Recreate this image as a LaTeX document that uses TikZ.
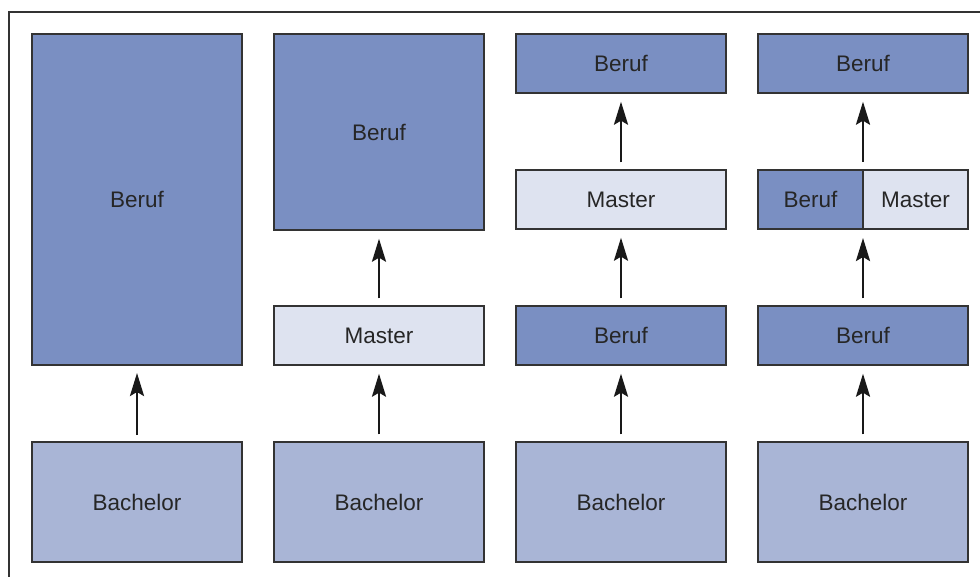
\documentclass[tikz,border=0pt]{standalone}
\usepackage{fontspec}
\setmainfont{Liberation Sans}
\usetikzlibrary{arrows.meta}
\definecolor{beruf}{HTML}{7A8FC2}
\definecolor{master}{HTML}{DEE3F0}
\definecolor{bachelor}{HTML}{A9B5D6}
\definecolor{edge}{HTML}{333333}
\tikzset{
  box/.style={draw=edge, line width=1.4pt, inner sep=0pt, font=\fontsize{22.5}{26}\selectfont, text=black!85},
  berufbox/.style={box, fill=beruf},
  masterbox/.style={box, fill=master},
  bachbox/.style={box, fill=bachelor},
  flow/.style={line width=2.6pt, draw=black!90, -{Stealth[length=23pt,width=14pt,inset=4pt]}, shorten >=1pt}
}
\begin{document}
\begin{tikzpicture}[x=1pt,y=-1pt]
\useasboundingbox (0,0) rectangle (980,577);
\draw[edge, line width=1.3pt] (9,577) -- (9,12) -- (980,12);
% column 1
\node[berufbox, minimum width=210pt, minimum height=331pt] (b1) at (137,199.5) {Beruf};
\node[bachbox, minimum width=210pt, minimum height=120pt] (a1) at (137,502) {Bachelor};
\coordinate (a1t) at (137,435);
\coordinate (b1b) at (137,372);
\draw[flow] (a1t) -- (b1b);
% column 2
\node[berufbox, minimum width=210pt, minimum height=196pt] (b2) at (379,132) {Beruf};
\node[masterbox, minimum width=210pt, minimum height=59pt] (m2) at (379,335.5) {Master};
\node[bachbox, minimum width=210pt, minimum height=120pt] (a2) at (379,502) {Bachelor};
\draw[flow] ([yshift=7pt]a2.north) -- ([yshift=-7pt]m2.south);
\draw[flow] ([yshift=7pt]m2.north) -- ([yshift=-7pt]b2.south);
% column 3
\node[berufbox, minimum width=210pt, minimum height=59pt] (t3) at (621,63.5) {Beruf};
\node[masterbox, minimum width=210pt, minimum height=59pt] (m3) at (621,199.5) {Master};
\node[berufbox, minimum width=210pt, minimum height=59pt] (b3) at (621,335.5) {Beruf};
\node[bachbox, minimum width=210pt, minimum height=120pt] (a3) at (621,502) {Bachelor};
\draw[flow] ([yshift=7pt]a3.north) -- ([yshift=-7pt]b3.south);
\draw[flow] ([yshift=7pt]b3.north) -- ([yshift=-7pt]m3.south);
\draw[flow] ([yshift=7pt]m3.north) -- ([yshift=-7pt]t3.south);
% column 4
\node[berufbox, minimum width=210pt, minimum height=59pt] (t4) at (863,63.5) {Beruf};
\node[berufbox, minimum width=105pt, minimum height=59pt] (ml4) at (810.5,199.5) {Beruf};
\node[masterbox, minimum width=105pt, minimum height=59pt] (mr4) at (915.5,199.5) {Master};
\node[berufbox, minimum width=210pt, minimum height=59pt] (b4) at (863,335.5) {Beruf};
\node[bachbox, minimum width=210pt, minimum height=120pt] (a4) at (863,502) {Bachelor};
\coordinate (m4b) at (863,237);
\coordinate (m4t) at (863,162);
\draw[flow] ([yshift=7pt]a4.north) -- ([yshift=-7pt]b4.south);
\draw[flow] ([yshift=7pt]b4.north) -- (m4b);
\draw[flow] (m4t) -- ([yshift=-7pt]t4.south);
\end{tikzpicture}
\end{document}
